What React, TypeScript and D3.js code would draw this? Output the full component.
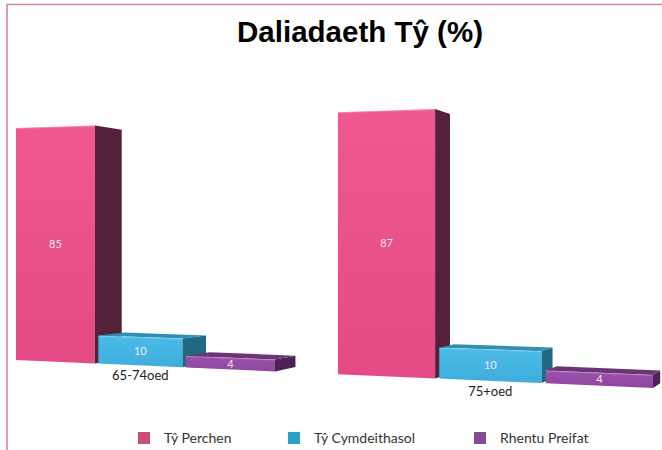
import React from 'react';
import * as d3 from 'd3';

// Chart data
const categories = ['65-74oed', '75+oed'];
const seriesNames = ['Tŷ Perchen', 'Tŷ Cymdeithasol', 'Rhentu Preifat'];
const perchen = [85, 87];
const cymdeithasol = [10, 10];
const preifat = [4, 4];
const seriesValues = [perchen, cymdeithasol, preifat];

// Colours per series: front (top, bottom), side, top face, legend
const palette = [
  { frontTop: '#ef5891', frontBottom: '#e44a84', side: '#55203a', top: '#f07aa5', legend: '#c94f7a' },
  { frontTop: '#4bbbe8', frontBottom: '#3eaddb', side: '#1f6a82', top: '#3190b2', legend: '#2aa2c8' },
  { frontTop: '#9c52ac', frontBottom: '#8d459d', side: '#4a2254', top: '#6d3478', legend: '#824b95' },
];

const width = 662;
const height = 450;

// Fake 3D perspective: chart plane leans so the right side is nearer
const warpX = (u: number) => 16 + 236 * u + 22.97 * u * u;
const baseY = (x: number) => 360 + 0.044 * (x - 16);
const persp = (x: number) => 1 + 0.00032 * (x - 16);
const vanish = { x: 860, y: 248 };
const depthK = 0.965;
const back = ([x, y]: [number, number]): [number, number] => [
  vanish.x + depthK * (x - vanish.x),
  vanish.y + depthK * (y - vanish.y),
];

const poly = (pts: [number, number][]) => pts.map(p => p.join(',')).join(' ');

export default function App() {
  const groupScale = d3.scaleBand<string>()
    .domain(categories)
    .range([0, 2.2195])
    .paddingInner(0.18);

  const seriesScale = d3.scaleBand<string>()
    .domain(seriesNames)
    .range([0, groupScale.bandwidth()])
    .paddingInner(0.04);

  const yScale = d3.scaleLinear().domain([0, 100]).range([0, 273]);

  const topAt = (x: number, v: number) => baseY(x) - yScale(v) * persp(x);

  const bars: any[] = [];
  categories.forEach((cat, ci) => {
    seriesNames.forEach((name, si) => {
      const v = seriesValues[si][ci];
      const u0 = (groupScale(cat) || 0) + (seriesScale(name) || 0);
      const u1 = u0 + seriesScale.bandwidth();
      const x0 = warpX(u0);
      const x1 = warpX(u1);
      const ftl: [number, number] = [x0, topAt(x0, v)];
      const ftr: [number, number] = [x1, topAt(x1, v)];
      const fbr: [number, number] = [x1, baseY(x1)];
      const fbl: [number, number] = [x0, baseY(x0)];
      bars.push({ ci, si, v, ftl, ftr, fbr, fbl, btl: back(ftl), btr: back(ftr), bbr: back(fbr) });
    });
  });

  return (
    <svg width={width} height={height} style={{ position: 'absolute', left: 0, top: 0, background: '#fff' }}>
      <defs>
        {palette.map((c, i) => (
          <linearGradient key={i} id={`front${i}`} x1="0" y1="0" x2="0" y2="1">
            <stop offset="0" stopColor={c.frontTop} />
            <stop offset="1" stopColor={c.frontBottom} />
          </linearGradient>
        ))}
      </defs>

      {/* frame */}
      <path d="M7,450 L7,4.5 L662,4.5" fill="none" stroke="#dc7fa1" strokeWidth={1.6} />

      <text x={360} y={42} textAnchor="middle" fontFamily="Liberation Sans, Arial, sans-serif"
        fontWeight="bold" fontSize={29} textLength={246} lengthAdjust="spacingAndGlyphs" fill="#000">
        Daliadaeth Tŷ (%)
      </text>

      {bars.map((b, i) => {
        const c = palette[b.si];
        const showTop = b.ftl[1] > vanish.y;
        const cx = (b.ftl[0] + b.ftr[0]) / 2;
        const cy = ((b.ftl[1] + b.ftr[1]) / 2 + (b.fbl[1] + b.fbr[1]) / 2) / 2;
        return (
          <g key={i}>
            <polygon points={poly([b.ftr, b.fbr, b.bbr, b.btr])} fill={c.side} />
            {showTop && <polygon points={poly([b.ftl, b.ftr, b.btr, b.btl])} fill={c.top} />}
            <polygon points={poly([b.ftl, b.ftr, b.fbr, b.fbl])} fill={`url(#front${b.si})`} />
            <line x1={b.ftl[0]} y1={b.ftl[1] + 0.5} x2={b.ftr[0]} y2={b.ftr[1] + 0.5}
              stroke="#fff" strokeOpacity={0.25} />
            <text x={cx} y={cy + 4} textAnchor="middle" fontFamily="Lato, sans-serif" fontSize={11}
              fill="#f4e8f0">{b.v}</text>
          </g>
        );
      })}

      {/* category labels under the middle bar of each group */}
      {bars.filter(b => b.si === 1).map((b, i) => (
        <text key={i} x={(b.fbl[0] + b.fbr[0]) / 2} y={baseY((b.fbl[0] + b.fbr[0]) / 2) + 15}
          textAnchor="middle" fontFamily="Lato, sans-serif" fontSize={13} fill="#222">
          {categories[b.ci]}
        </text>
      ))}

      {/* legend */}
      {seriesNames.map((name, i) => {
        const lx = [138, 288, 474][i];
        return (
          <g key={name} transform={`translate(${lx},432)`}>
            <rect width={12} height={12} fill={palette[i].legend} />
            <text x={26} y={11} fontFamily="Lato, sans-serif" fontSize={14} fill="#333">{name}</text>
          </g>
        );
      })}
    </svg>
  );
}
